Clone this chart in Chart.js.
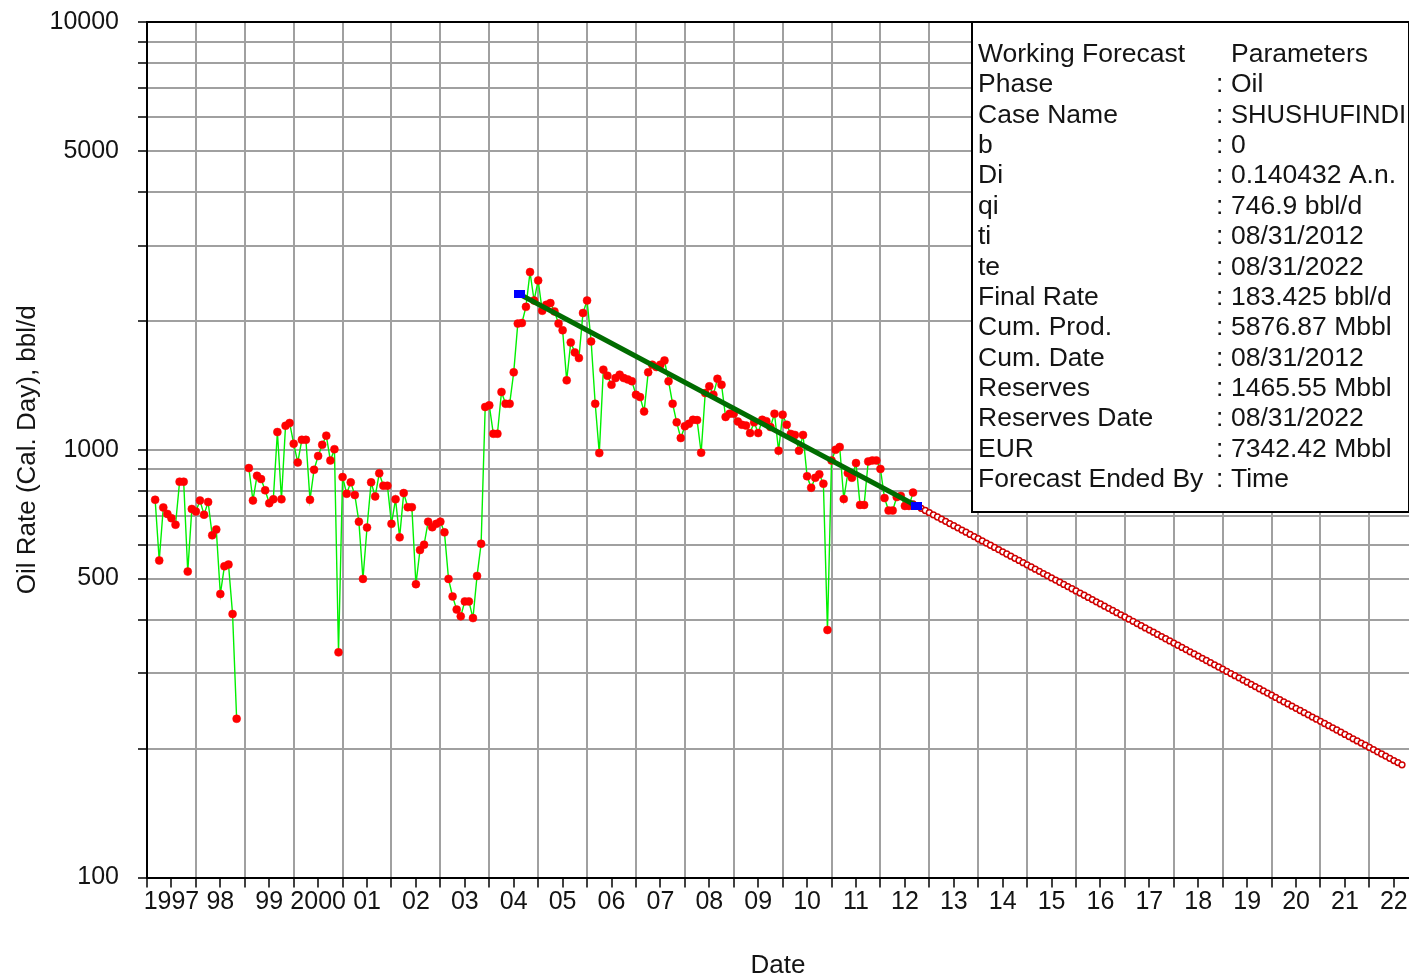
<!DOCTYPE html>
<html>
<head>
<meta charset="utf-8">
<title>Oil Rate - SHUSHUFINDI</title>
<script src="https://cdn.jsdelivr.net/npm/chart.js@4.4.1/dist/chart.umd.min.js"></script>
<style>
  html, body { margin: 0; padding: 0; background: #ffffff; }
  #wrap { width: 1409px; height: 977px; position: relative; }
</style>
</head>
<body>
<div id="wrap"><canvas id="chart" width="1409" height="977"></canvas></div>
<script>
// Monthly oil rate (bbl/d, calendar day), month-end values starting Feb 1997; null = no production
const firstYear = 1997;
const firstMonth = 2;
const oilRate = [
  764, 551, 733, 708, 692, 668, 842, 842, 519, 727, 717, 761, 705, 755, 631, 651, 460, 534, 539, 413, 235,
  null, null,
  906, 761, 869, 854, 804, 750, 766, 1100, 766, 1138, 1155, 1033, 934, 1055, 1055, 764, 898, 967, 1027, 1079,
  944, 1003, 336, 863, 789, 839, 784, 679, 499, 658, 839, 778, 881, 824, 824, 671, 766, 624,
  792, 734, 734, 485, 583, 600, 679, 659, 671, 679, 641, 499, 454, 423, 408, 442, 442, 404, 507, 603,
  1259, 1270, 1090, 1090, 1365, 1281, 1281, 1517, 1972, 1978, 2158, 2602, 2233, 2488, 2113, 2182, 2202,
  2106, 1972, 1903, 1453, 1782, 1689, 1638, 2088, 2233, 1792, 1281, 982,
  1539, 1490, 1419, 1471, 1498, 1471, 1460, 1446, 1345, 1328, 1229, 1517, 1581, 1561, 1581, 1617, 1446,
  1281, 1159, 1065,
  1135, 1150, 1175, 1173, 984, 1357, 1407, 1345, 1465, 1419, 1193, 1214, 1214, 1164, 1144, 1139, 1094,
  1159, 1094, 1175, 1166, 1130, 1214, 995, 1208, 1144, 1089, 1083, 995, 1083, 867, 815, 860, 876, 833,
  379, 944, 1000, 1015, 767, 882, 860, 931, 743, 743, 939, 944, 944, 902, 771, 721, 721, 775, 780, 739,
  739, 794
];

// Exponential fit through the decline period (decimal year, bbl/d)
const fitYears = [2004.62, 2012.667];
const fitRates = [2310, 746.9];
// Fit range end markers
const fitMarkYears = [2004.62, 2012.74];
const fitMarkRates = [2313, 740];

// Forecast, monthly from 08/31/2012 to 08/31/2022 (bbl/d)
const forecastStartYear = 2012;
const forecastStartMonth = 8;
const forecastRate = [
  746.9, 738.2, 729.6, 721.1, 712.7, 704.5, 696.3, 688.2, 680.2, 672.2, 664.4, 656.7,
  649.0, 641.5, 634.0, 626.7, 619.4, 612.2, 605.0, 598.0, 591.0, 584.2, 577.4, 570.6,
  564.0, 557.5, 551.0, 544.6, 538.2, 532.0, 525.8, 519.7, 513.6, 507.6, 501.7, 495.9,
  490.1, 484.4, 478.8, 473.2, 467.7, 462.3, 456.9, 451.6, 446.3, 441.1, 436.0, 430.9,
  425.9, 420.9, 416.1, 411.2, 406.4, 401.7, 397.0, 392.4, 387.8, 383.3, 378.9, 374.5,
  370.1, 365.8, 361.5, 357.3, 353.2, 349.1, 345.0, 341.0, 337.0, 333.1, 329.2, 325.4,
  321.6, 317.9, 314.2, 310.5, 306.9, 303.3, 299.8, 296.3, 292.9, 289.5, 286.1, 282.8,
  279.5, 276.2, 273.0, 269.8, 266.7, 263.6, 260.5, 257.5, 254.5, 251.5, 248.6, 245.7,
  242.9, 240.0, 237.2, 234.5, 231.8, 229.1, 226.4, 223.8, 221.2, 218.6, 216.0, 213.5,
  211.0, 208.6, 206.2, 203.8, 201.4, 199.1, 196.7, 194.4, 192.2, 189.9, 187.7, 185.6,
  183.4
];

// Axis labels
const yearLabels = ['1997', '98', '99', '2000', '01', '02', '03', '04', '05', '06', '07', '08', '09',
  '10', '11', '12', '13', '14', '15', '16', '17', '18', '19', '20', '21', '22'];
const rateGridValues = [100, 200, 300, 400, 500, 600, 700, 800, 900,
  1000, 2000, 3000, 4000, 5000, 6000, 7000, 8000, 9000, 10000];
const rateLabelValues = [100, 500, 1000, 5000, 10000];

// Parameter table
const paramHeader = ['Working Forecast', 'Parameters'];
const paramNames = ['Phase', 'Case Name', 'b', 'Di', 'qi', 'ti', 'te', 'Final Rate', 'Cum. Prod.',
  'Cum. Date', 'Reserves', 'Reserves Date', 'EUR', 'Forecast Ended By'];
const paramValues = ['Oil', 'SHUSHUFINDI', '0', '0.140432 A.n.', '746.9 bbl/d', '08/31/2012', '08/31/2022',
  '183.425 bbl/d', '5876.87 Mbbl', '08/31/2012', '1465.55 Mbbl', '08/31/2022', '7342.42 Mbbl', 'Time'];

// ---- build datasets ----
const monthEnd = (y, m) => y + m / 12;
const histPoints = oilRate.map((q, i) => ({ x: monthEnd(firstYear, firstMonth + i), y: q }));
const fcPoints = forecastRate.map((q, k) => ({ x: monthEnd(forecastStartYear, forecastStartMonth + k), y: q }));
const fitPoints = fitYears.map((x, i) => ({ x, y: fitRates[i] }));
const markPoints = fitMarkYears.map((x, i) => ({ x, y: fitMarkRates[i] }));

const xTickValues = [];
yearLabels.forEach((_, i) => { xTickValues.push(firstYear + i, firstYear + i + 0.5); });

const FONT = "'Liberation Sans', Arial, 'DejaVu Sans', sans-serif";
const TEXT = '#141414';
const GRID = '#a0a0a0';

const blueMark = document.createElement('canvas');
blueMark.width = 11; blueMark.height = 8;
(function () { const g = blueMark.getContext('2d'); g.fillStyle = '#0000ff'; g.fillRect(0, 0, 11, 8); })();

// Parameter table box in the upper right corner of the plot
const paramBox = {
  id: 'paramBox',
  afterDatasetsDraw(chart) {
    const g = chart.ctx;
    const left = 972, top = 22, right = 1409, bottom = 512;
    g.save();
    g.fillStyle = '#ffffff';
    g.fillRect(left, top, right - left, bottom - top);
    g.strokeStyle = '#000000';
    g.lineWidth = 2;
    g.strokeRect(left, top, right - left, bottom - top);
    g.fillStyle = TEXT;
    g.font = '26.5px ' + FONT;
    g.textBaseline = 'alphabetic';
    g.textAlign = 'left';
    const x0 = 978, xColon = 1216, xVal = 1231;
    const base0 = 62, step = 30.36;
    g.fillText(paramHeader[0], x0, base0);
    g.fillText(paramHeader[1], xVal, base0);
    paramNames.forEach((name, i) => {
      const y = base0 + step * (i + 1);
      g.fillText(name, x0, y);
      g.fillText(':', xColon, y);
      const avail = right - 3 - xVal;
      const w = g.measureText(paramValues[i]).width;
      if (w > avail) {
        g.save();
        g.translate(xVal, y);
        g.scale(avail / w, 1);
        g.fillText(paramValues[i], 0, 0);
        g.restore();
      } else {
        g.fillText(paramValues[i], xVal, y);
      }
    });
    g.restore();
  }
};

new Chart(document.getElementById('chart'), {
  type: 'line',
  data: {
    datasets: [
      {
        label: 'Fit markers', data: markPoints, showLine: false, order: 0,
        pointStyle: blueMark, pointRadius: 6, pointHoverRadius: 6
      },
      {
        label: 'Fit', data: fitPoints, order: 1,
        borderColor: '#006c00', borderWidth: 5, pointRadius: 0, tension: 0
      },
      {
        label: 'Forecast', data: fcPoints, showLine: false, order: 2,
        pointStyle: 'circle', pointRadius: 2.9, pointBorderWidth: 1.5,
        pointBorderColor: '#d00000', pointBackgroundColor: '#ffffff'
      },
      {
        label: 'Oil Rate', data: histPoints, order: 3, spanGaps: false,
        borderColor: '#00f000', borderWidth: 1.4, tension: 0,
        pointStyle: 'circle', pointRadius: 4, pointBorderWidth: 0.5,
        pointBorderColor: '#ff0000', pointBackgroundColor: '#ff0000'
      }
    ]
  },
  options: {
    responsive: false,
    animation: false,
    devicePixelRatio: 1,
    events: [],
    layout: { autoPadding: false, padding: { top: 22, right: 0, bottom: 0, left: 0 } },
    plugins: { legend: { display: false }, tooltip: { enabled: false } },
    scales: {
      x: {
        type: 'linear', min: 1997, max: 2022.81,
        afterBuildTicks: s => { s.ticks = xTickValues.map(v => ({ value: v })); },
        afterFit: s => { s.height = 99.5; s.paddingLeft = 0; s.paddingRight = 0; },
        ticks: {
          autoSkip: false, maxRotation: 0, minRotation: 0, padding: 2,
          color: TEXT, font: { family: FONT, size: 25, lineHeight: 1 },
          callback: v => (v % 1 === 0 ? '' : yearLabels[Math.floor(v) - firstYear])
        },
        grid: {
          color: c => (c.tick && c.tick.value % 1 === 0 ? GRID : 'rgba(0,0,0,0)'),
          lineWidth: 2, tickColor: '#000000', tickLength: 10, tickWidth: 1.5
        },
        border: { color: '#000000', width: 2 },
        title: {
          display: true, text: 'Date', color: TEXT,
          font: { family: FONT, size: 26, lineHeight: 1 }, padding: { top: 0, bottom: -2 }
        }
      },
      y: {
        type: 'logarithmic', min: 100, max: 10000,
        afterBuildTicks: s => { s.ticks = rateGridValues.map(v => ({ value: v })); },
        afterFit: s => { s.width = 147; s.paddingTop = 0; s.paddingBottom = 0; },
        ticks: {
          autoSkip: false, padding: 19, color: TEXT,
          font: { family: FONT, size: 25, lineHeight: 1 },
          callback: v => (rateLabelValues.includes(v) ? String(v) : '')
        },
        grid: {
          color: c => (c.tick && c.tick.value === 10000 ? '#000000' : GRID),
          lineWidth: 2,
          tickColor: '#000000', tickLength: 9, tickWidth: 1.5
        },
        border: { color: '#000000', width: 2 },
        title: {
          display: true, text: 'Oil Rate (Cal. Day), bbl/d', color: TEXT,
          font: { family: FONT, size: 26, lineHeight: 1 }, padding: { top: 15, bottom: 0 }
        }
      }
    }
  },
  plugins: [paramBox]
});
</script>
</body>
</html>
